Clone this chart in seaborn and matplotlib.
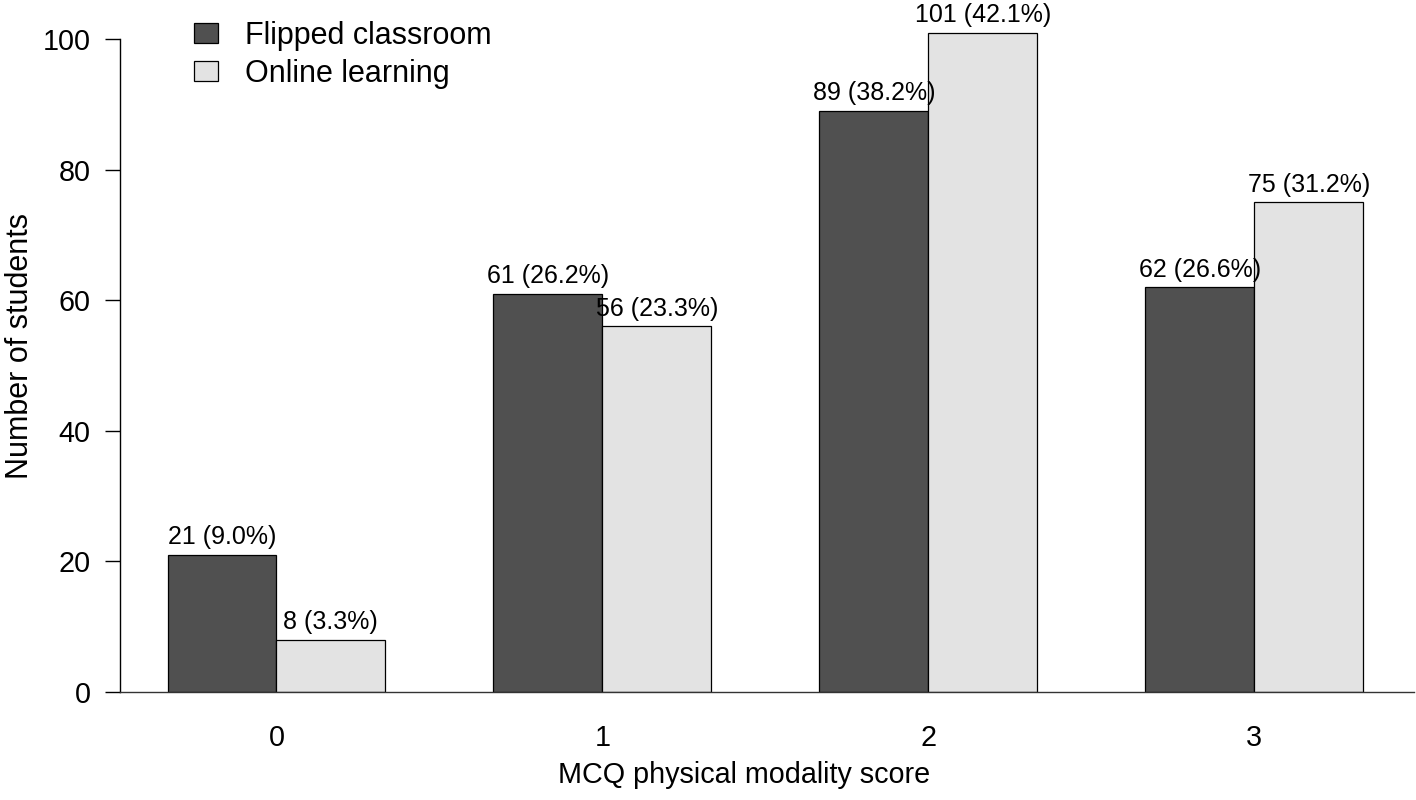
import matplotlib
matplotlib.use('Agg')
import matplotlib.pyplot as plt
import pandas as pd
import seaborn as sns

# data
scores = ['0', '1', '2', '3']
flipped = [21, 61, 89, 62]
online = [8, 56, 101, 75]
flipped_labels = ['21 (9.0%)', '61 (26.2%)', '89 (38.2%)', '62 (26.6%)']
online_labels = ['8 (3.3%)', '56 (23.3%)', '101 (42.1%)', '75 (31.2%)']
groups = ['Flipped classroom', 'Online learning']

sns.set_style('white')
plt.rcParams['font.family'] = ['Liberation Sans', 'DejaVu Sans']
plt.rcParams['text.color'] = 'black'
plt.rcParams['axes.labelcolor'] = 'black'
plt.rcParams['xtick.color'] = 'black'
plt.rcParams['ytick.color'] = 'black'

df = pd.DataFrame({
    'score': scores * 2,
    'students': flipped + online,
    'group': [groups[0]] * 4 + [groups[1]] * 4,
})

fig = plt.figure(figsize=(14.16, 8), dpi=100)
ax = fig.add_axes([0.0847, 0.135, 0.9139, 0.865])

sns.barplot(data=df, x='score', y='students', hue='group', hue_order=groups,
            palette=['#505050', '#e3e3e3'], width=0.668, saturation=1,
            edgecolor='black', linewidth=0.9, ax=ax)

# counts and percentages above the bars
for cont, labs in zip(ax.containers, [flipped_labels, online_labels]):
    ax.bar_label(cont, labels=labs, padding=4, fontsize=18)

ax.set_xlim(-0.48, 3.49)
ax.set_ylim(0, 106)
ax.set_yticks([0, 20, 40, 60, 80, 100])
ax.tick_params(axis='y', length=11, width=1, labelsize=20.7, pad=10, left=True)
ax.tick_params(axis='x', length=0, labelsize=20.7, pad=23)

sns.despine(ax=ax)
ax.spines['left'].set_bounds(0, 100)
ax.spines['left'].set_color('black')
ax.spines['bottom'].set_color('#333333')
ax.spines['left'].set_linewidth(1)
ax.spines['bottom'].set_linewidth(1)

ax.set_ylabel('Number of students', fontsize=22)
ax.yaxis.set_label_coords(-0.066, 0.5)
ax.set_xlabel('MCQ physical modality score', fontsize=20.7)
ax.xaxis.set_label_coords(0.482, -0.099)

handles, labels = ax.get_legend_handles_labels()
ax.legend(handles, labels, frameon=False, fontsize=22, loc='upper left',
          bbox_to_anchor=(0.036, 1.010), handlelength=0.78, handleheight=0.62,
          handletextpad=0.9, labelspacing=0.26)

fig.savefig('out.png', dpi=100)
